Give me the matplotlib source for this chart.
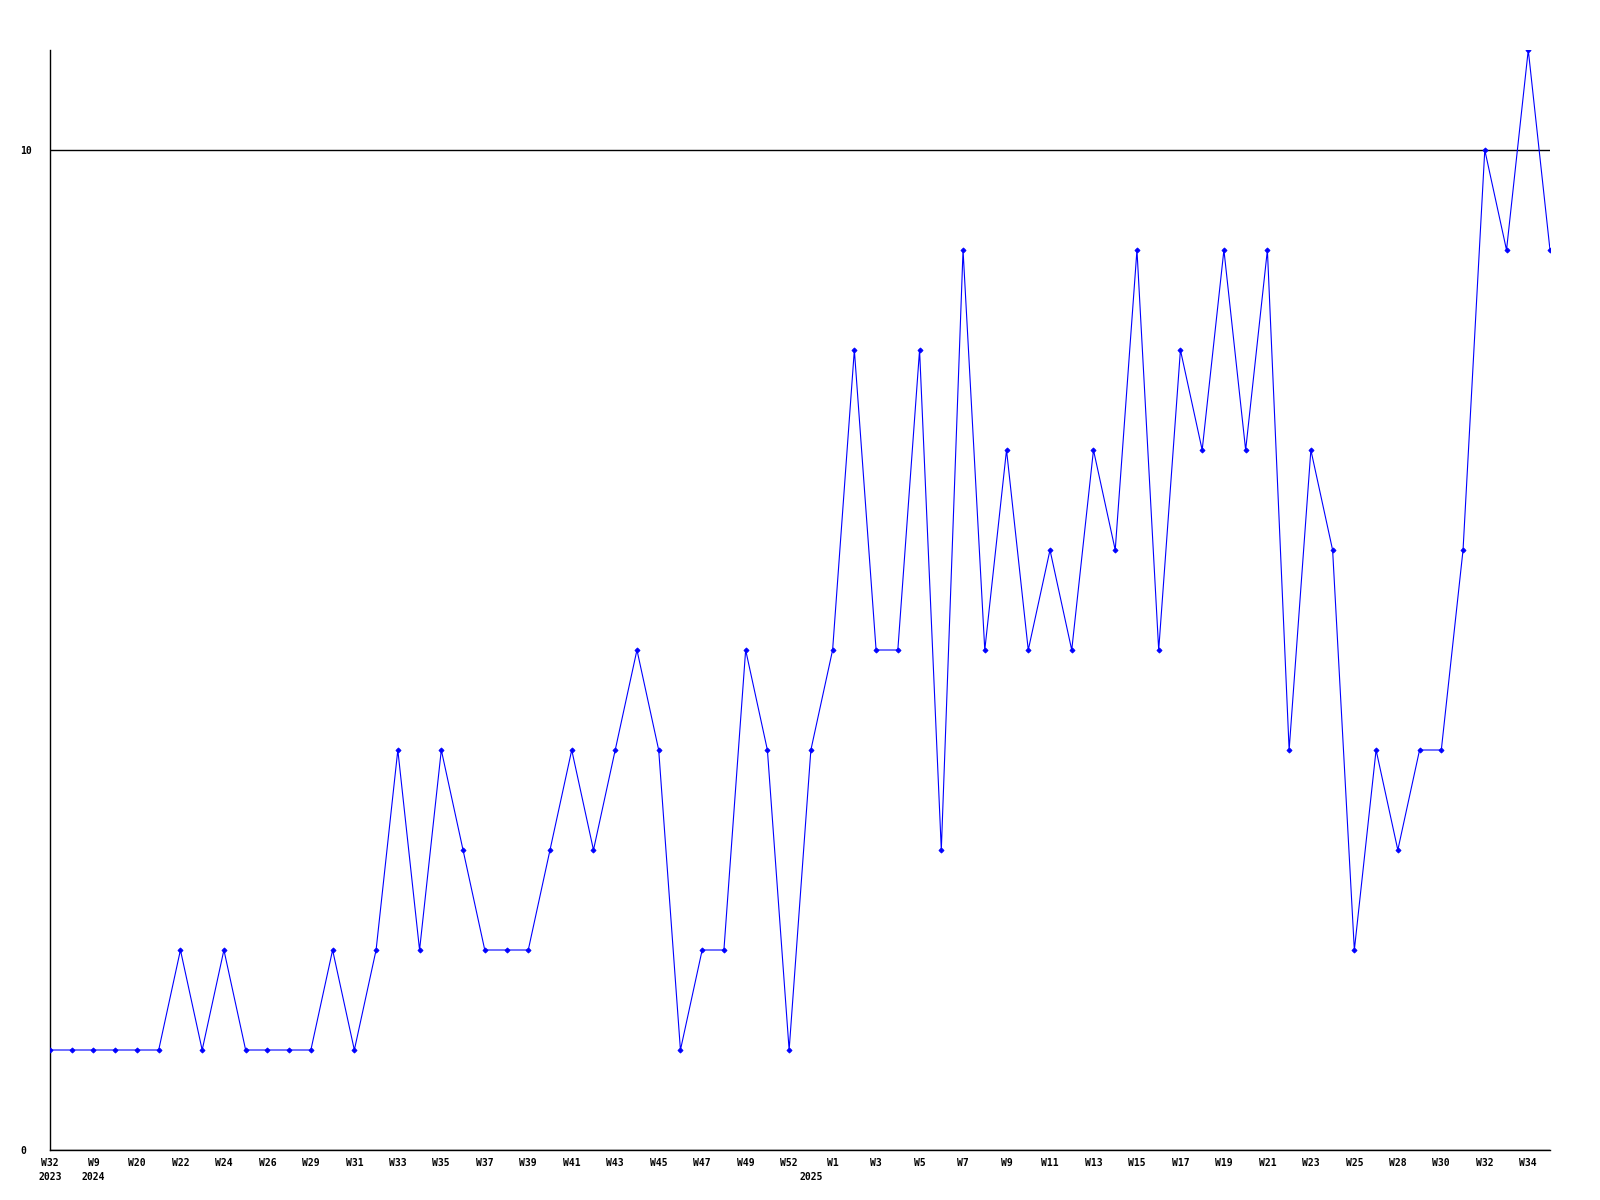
import matplotlib
matplotlib.use("Agg")
import matplotlib.pyplot as plt

# weekly counts, one point per week that has data
values = [1, 1, 1, 1, 1, 1, 2, 1, 2, 1,
          1, 1, 1, 2, 1, 2, 4, 2, 4, 3,
          2, 2, 2, 3, 4, 3, 4, 5, 4, 1,
          2, 2, 5, 4, 1, 4, 5, 8, 5, 5,
          8, 3, 9, 5, 7, 5, 6, 5, 7, 6,
          9, 5, 8, 7, 9, 7, 9, 4, 7, 6,
          2, 4, 3, 4, 4, 6, 10, 9, 11, 9]

# labels shown on every second point
tick_labels = ["W32", "W9", "W20", "W22", "W24", "W26", "W29", "W31",
               "W33", "W35", "W37", "W39", "W41", "W43", "W45", "W47", "W49",
               "W52", "W1", "W3", "W5", "W7", "W9", "W11", "W13", "W15",
               "W17", "W19", "W21", "W23", "W25", "W28", "W30", "W32", "W34"]
# year markers: (point index, year)
year_pos = [0, 2, 35]
year_labels = ["2023", "2024", "2025"]
y_ticks = [0, 10]

x = list(range(len(values)))
tick_pos = x[::2]
font = dict(family="DejaVu Sans Mono", fontweight="bold", fontsize=7)

fig = plt.figure(figsize=(16, 12), dpi=100)
ax = fig.add_axes([50 / 1600, 50 / 1200, 1500 / 1600, 1100 / 1200])

ax.plot(x, values, color="#0000ff", lw=0.8, marker="D", ms=2.6, mew=0.6, zorder=3)

ax.set_xlim(0, len(values) - 1)
ax.set_ylim(0, 11)

ax.set_xticks(tick_pos)
ax.set_xticklabels(tick_labels, **font)
ax.set_yticks(y_ticks)
ax.set_yticklabels([str(v) for v in y_ticks], **font)
for lab in ax.get_yticklabels():
    lab.set_horizontalalignment("left")

# second row: the years
for pos, yr in zip(year_pos, year_labels):
    ax.annotate(yr, xy=(pos, 0), xycoords=("data", "axes fraction"),
                xytext=(0, -15.6), textcoords="offset points",
                ha="center", va="top", **font)

ax.tick_params(axis="x", length=0, pad=5.5)
ax.tick_params(axis="y", length=0, pad=21.6)
ax.yaxis.grid(True, color="black", lw=1)
ax.set_axisbelow(True)

for side in ["top", "right"]:
    ax.spines[side].set_visible(False)
for side in ["left", "bottom"]:
    ax.spines[side].set_color("black")
    ax.spines[side].set_linewidth(1)

fig.savefig("out.png", dpi=100)
